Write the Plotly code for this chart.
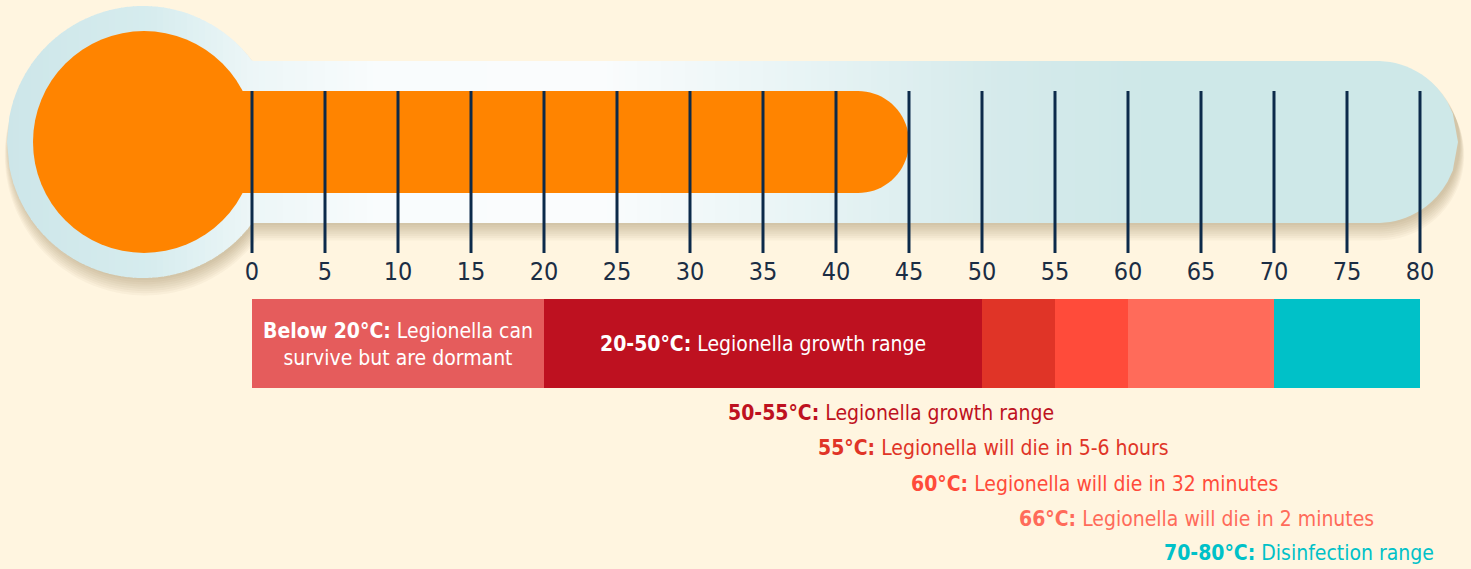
import numpy as np
import plotly.graph_objects as go

# ---------------- data ----------------
tick_values = list(range(0, 85, 5))
tick_labels = [str(v) for v in tick_values]
fill_level = 45  # thermometer reading (°C)

band_start = [0, 20, 50, 55, 60, 70]
band_end = [20, 50, 55, 60, 70, 80]
band_colors = ["#E55C5C", "#BE1120", "#E03427", "#FF4B3A", "#FF6B5A", "#00C1C8"]
band_labels = ["<b>Below 20°C:</b> Legionella can<br>survive but are dormant",
               "<b>20-50°C:</b> Legionella growth range", "", "", "", ""]

note_bold = ["50-55°C:", "55°C:", "60°C:", "66°C:", "70-80°C:"]
note_text = ["Legionella growth range", "Legionella will die in 5-6 hours",
             "Legionella will die in 32 minutes", "Legionella will die in 2 minutes",
             "Disinfection range"]
note_colors = ["#BE1120", "#E03427", "#FF4B3A", "#FF6B5A", "#00C1C8"]

# ---------------- layout / style ----------------
W, H = 1471, 569
BG = "#FFF5E0"
FONT = "'Liberation Sans Narrow', 'DejaVu Sans Condensed', 'Roboto Condensed', sans-serif"
NAVY = "#0C2A4A"
ORANGE = "#FF8400"

PPU = 14.6          # pixels per degree
ZERO_PX = 252.0     # pixel position of 0°C
x_min = -ZERO_PX / PPU
x_max = x_min + W / PPU


def X(px):
    return (px - ZERO_PX) / PPU


def T2PX(t):
    return ZERO_PX + t * PPU


def path_from(points):
    pts = [(X(px), py) for px, py in points]
    s = "M {:.4f},{:.3f} ".format(*pts[0])
    s += " ".join("L {:.4f},{:.3f}".format(a, b) for a, b in pts[1:])
    return s + " Z"


# thermometer geometry (pixels)
CY = 142.0
BULB_CX, BULB_R = 143.0, 136.0
TUBE_HALF = 81.0
TUBE_END = T2PX(80) + 38  # right extreme of glass


def body_outline(e=0.0, dx=0.0, dy=0.0):
    r = BULB_R + e
    th = TUBE_HALF + e
    end_c = TUBE_END - TUBE_HALF
    jx = np.sqrt(r ** 2 - th ** 2)
    a0 = np.arctan2(-th, jx)
    pts = []
    pts.append((BULB_CX + jx, CY - th))
    pts.append((end_c, CY - th))
    for a in np.linspace(-np.pi / 2, np.pi / 2, 40):
        pts.append((end_c + th * np.cos(a), CY + th * np.sin(a)))
    pts.append((BULB_CX + jx, CY + th))
    for a in np.linspace(-a0, 2 * np.pi + a0, 120):
        pts.append((BULB_CX + r * np.cos(a), CY + r * np.sin(a)))
    return [(p[0] + dx, p[1] + dy) for p in pts]


def top_at(x):
    vals = []
    if abs(x - BULB_CX) <= BULB_R:
        vals.append(CY - np.sqrt(max(BULB_R ** 2 - (x - BULB_CX) ** 2, 0)))
    end_c = TUBE_END - TUBE_HALF
    if BULB_CX <= x <= end_c:
        vals.append(CY - TUBE_HALF)
    elif end_c < x <= TUBE_END:
        vals.append(CY - np.sqrt(max(TUBE_HALF ** 2 - (x - end_c) ** 2, 0)))
    return min(vals) if vals else CY


grad_stops = [(7, (205, 230, 233)), (150, (214, 236, 238)), (250, (236, 246, 247)),
              (380, (249, 252, 253)), (600, (250, 252, 253)), (800, (232, 244, 245)),
              (1000, (213, 234, 235)), (1150, (206, 232, 232)), (1460, (206, 232, 232))]


def grad_color(x):
    xs = [s[0] for s in grad_stops]
    rgb = [int(round(np.interp(x, xs, [s[1][k] for s in grad_stops]))) for k in range(3)]
    return "rgb({},{},{})".format(*rgb)


shapes = []

# soft shadow (stacked translucent outlines)
for i in range(8):
    e = 7 - i
    dy = 2 + 2 * (7 - i) * 0.8
    shapes.append(dict(type="path", path=path_from(body_outline(e * 0.6, 2, dy)), xref="x", yref="y",
                       fillcolor="rgba(110,90,55,0.045)", line=dict(width=0), layer="below"))

# glass body as thin vertical gradient slices
left = BULB_CX - BULB_R
edges = list(np.arange(left, 1150, 6.0)) + [1150.0]
for xa, xb in zip(edges[:-1], edges[1:]):
    xs = np.linspace(xa, xb + 0.9, 4)
    tops = [top_at(x) for x in xs]
    pts = [(x, t) for x, t in zip(xs, tops)] + [(x, 2 * CY - t) for x, t in zip(xs[::-1], tops[::-1])]
    shapes.append(dict(type="path", path=path_from(pts), xref="x", yref="y",
                       fillcolor=grad_color((xa + xb) / 2), line=dict(width=0), layer="below"))
xs = np.linspace(1150, TUBE_END, 60)
tops = [top_at(x) for x in xs]
pts = [(x, t) for x, t in zip(xs, tops)] + [(x, 2 * CY - t) for x, t in zip(xs[::-1], tops[::-1])]
shapes.append(dict(type="path", path=path_from(pts), xref="x", yref="y",
                   fillcolor=grad_color(1300), line=dict(width=0), layer="below"))

# mercury: bulb + column up to fill level
MB_R = 111.0
shapes.append(dict(type="circle", xref="x", yref="y",
                   x0=X(BULB_CX + 1 - MB_R), x1=X(BULB_CX + 1 + MB_R), y0=CY - MB_R, y1=CY + MB_R,
                   fillcolor=ORANGE, line=dict(width=0), layer="below"))
COL_HALF = 51.0
fill_px = T2PX(fill_level)
pts = [(BULB_CX, CY - COL_HALF), (fill_px - COL_HALF, CY - COL_HALF)]
for a in np.linspace(-np.pi / 2, np.pi / 2, 40):
    pts.append((fill_px - COL_HALF + COL_HALF * np.cos(a), CY + COL_HALF * np.sin(a)))
pts.append((BULB_CX, CY + COL_HALF))
shapes.append(dict(type="path", path=path_from(pts), xref="x", yref="y",
                   fillcolor=ORANGE, line=dict(width=0), layer="below"))

fig = go.Figure()

# scale lines
lx, ly = [], []
for t in tick_values:
    lx += [t, t, None]
    ly += [91, 253, None]
fig.add_trace(go.Scatter(x=lx, y=ly, mode="lines", line=dict(color=NAVY, width=3),
                         hoverinfo="skip", showlegend=False))

# scale labels
fig.add_trace(go.Scatter(x=tick_values, y=[274] * len(tick_values), mode="text", text=tick_labels,
                         textfont=dict(family=FONT, size=25, color="#1B2D44"),
                         hoverinfo="skip", showlegend=False))

# temperature bands
fig.add_trace(go.Bar(orientation="h", base=band_start,
                     x=[e - s for s, e in zip(band_start, band_end)],
                     y=[343.5] * len(band_start), width=89,
                     marker=dict(color=band_colors, line=dict(width=0)),
                     hoverinfo="skip", showlegend=False))

annotations = []
for s, e, lab in zip(band_start, band_end, band_labels):
    if lab:
        annotations.append(dict(x=(s + e) / 2, y=344, xref="x", yref="y", text=lab, showarrow=False,
                                font=dict(family=FONT, size=21, color="white"), align="center"))

note_x = [43.8, 50.8, 57.7, 64.7, 71.7]
note_y = [413, 448, 484, 519, 553]
for b, t, c, nx, ny in zip(note_bold, note_text, note_colors, note_x, note_y):
    annotations.append(dict(x=nx, y=ny, xref="x", yref="y", text="<b>{}</b> {}".format(b, t),
                            showarrow=False, font=dict(family=FONT, size=21, color=c)))

fig.update_layout(
    width=W, height=H, margin=dict(l=0, r=0, t=0, b=0),
    paper_bgcolor=BG, plot_bgcolor=BG,
    xaxis=dict(range=[x_min, x_max], visible=False, fixedrange=True),
    yaxis=dict(range=[H, 0], visible=False, fixedrange=True),
    shapes=shapes, annotations=annotations, barmode="overlay", bargap=0,
    showlegend=False,
)

fig.write_html("out.html", config={"displayModeBar": False},
               post_script="document.body.style.margin='0';document.body.style.overflow='hidden';"
                           "document.body.style.background='" + BG + "';")
